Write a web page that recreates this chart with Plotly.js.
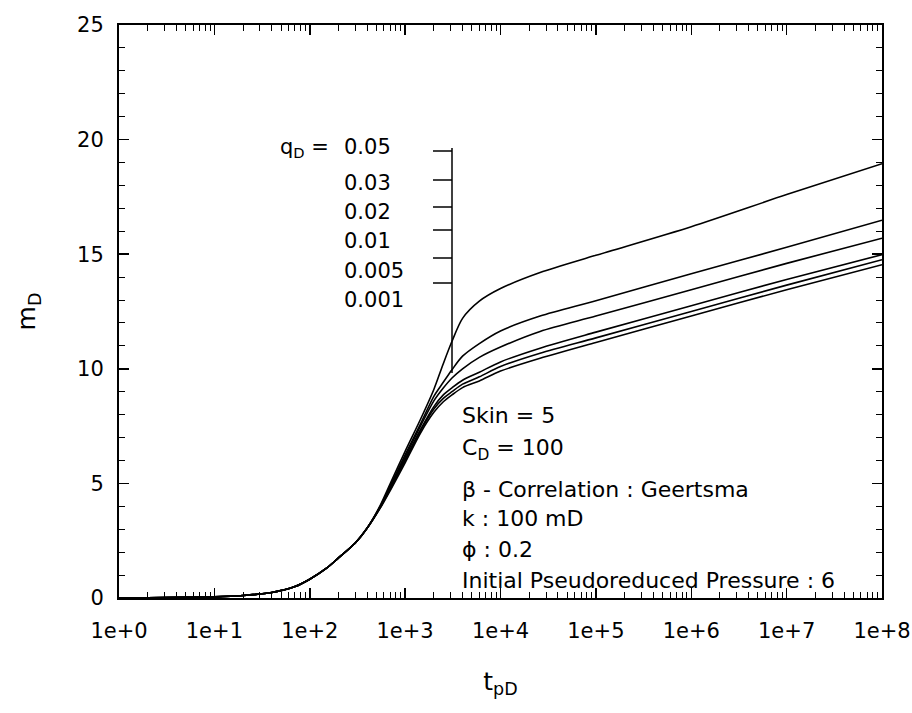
<!DOCTYPE html>
<html>
<head>
<meta charset="utf-8">
<script src="https://cdn.plot.ly/plotly-3.0.1.min.js"></script>
<style>html,body{margin:0;padding:0;background:#fff;}#chart{width:912px;height:713px;}</style>
</head>
<body>
<div id="chart"></div>
<script>
// Dimensionless time values
var tpD = [1, 2, 5, 10, 20, 40, 70, 100, 150, 200, 300, 400, 550, 700, 1000, 1450, 2000, 2500, 3100, 4000, 6000, 10000, 26000, 100000, 1000000, 10000000, 100000000];

// m_D series for each q_D
var qLabels = ["0.05", "0.03", "0.02", "0.01", "0.005", "0.001"];
var mD_005  = [0, 0.01, 0.03, 0.05, 0.11, 0.24, 0.5, 0.82, 1.3, 1.75, 2.4, 3.05, 4.05, 5.0, 6.4, 7.8, 9.1, 10.2, 11.2, 12.2, 12.95, 13.5, 14.2, 14.95, 16.2, 17.6, 18.95];
var mD_003  = [0, 0.01, 0.03, 0.05, 0.11, 0.24, 0.5, 0.82, 1.3, 1.75, 2.4, 3.05, 4.0, 4.9, 6.25, 7.6, 8.8, 9.4, 9.96, 10.55, 11.1, 11.65, 12.3, 12.97, 14.15, 15.3, 16.48];
var mD_002  = [0, 0.01, 0.03, 0.05, 0.11, 0.24, 0.5, 0.82, 1.3, 1.75, 2.4, 3.05, 4.0, 4.85, 6.15, 7.5, 8.6, 9.15, 9.6, 10.0, 10.5, 10.95, 11.63, 12.3, 13.45, 14.6, 15.7];
var mD_001  = [0, 0.01, 0.03, 0.05, 0.11, 0.24, 0.5, 0.82, 1.3, 1.75, 2.4, 3.05, 3.98, 4.8, 6.05, 7.35, 8.35, 8.85, 9.17, 9.5, 9.85, 10.3, 10.9, 11.6, 12.75, 13.9, 14.98];
var mD_0005 = [0, 0.01, 0.03, 0.05, 0.11, 0.24, 0.5, 0.82, 1.3, 1.75, 2.4, 3.05, 3.95, 4.75, 6.0, 7.3, 8.25, 8.7, 9.0, 9.33, 9.65, 10.1, 10.68, 11.35, 12.5, 13.65, 14.76];
var mD_0001 = [0, 0.01, 0.03, 0.05, 0.11, 0.24, 0.5, 0.82, 1.3, 1.75, 2.4, 3.05, 3.93, 4.7, 5.9, 7.2, 8.1, 8.55, 8.86, 9.18, 9.47, 9.9, 10.46, 11.15, 12.3, 13.45, 14.54];

var xTickVals = [1, 10, 100, 1000, 10000, 100000, 1000000, 10000000, 100000000];
var xTickText = ["1e+0", "1e+1", "1e+2", "1e+3", "1e+4", "1e+5", "1e+6", "1e+7", "1e+8"];
var yTickVals = [0, 5, 10, 15, 20, 25];

var series = [mD_005, mD_003, mD_002, mD_001, mD_0005, mD_0001];
var traces = series.map(function (s, i) {
  return {
    x: tpD, y: s, type: 'scatter', mode: 'lines',
    name: 'q_D = ' + qLabels[i],
    line: {color: '#000', width: 1.6, shape: 'spline', smoothing: 0.8},
    hoverinfo: 'skip'
  };
});

var FONT = 'DejaVu Sans, Verdana, sans-serif';

// paper-coordinate helpers (plot area: 119..882 x, 25..598 y in px)
function px(x) { return (x - 119) / 763; }
function py(y) { return (598 - y) / 573; }

var shapes = [];
shapes.push({type: 'line', xref: 'paper', yref: 'paper', x0: px(452), x1: px(452), y0: py(148), y1: py(373), line: {color: '#000', width: 1.5}});
[151, 180, 207, 230, 258, 283].forEach(function (yy) {
  shapes.push({type: 'line', xref: 'paper', yref: 'paper', x0: px(433), x1: px(452), y0: py(yy), y1: py(yy), line: {color: '#000', width: 1.5}});
});

var annotations = [];
annotations.push({xref: 'paper', yref: 'paper', x: px(278), y: py(148), xanchor: 'left', yanchor: 'middle', showarrow: false,
  text: 'q<sub>D</sub> =', font: {family: FONT, size: 21, color: '#000'}});
var qY = [147, 183, 212, 241, 271, 300];
qLabels.forEach(function (lab, i) {
  annotations.push({xref: 'paper', yref: 'paper', x: px(342), y: py(qY[i]), xanchor: 'left', yanchor: 'middle', showarrow: false,
    text: lab, font: {family: FONT, size: 21, color: '#000'}});
});
var info = ['Skin = 5', 'C<sub>D</sub> = 100', 'β - Correlation : Geertsma', 'k : 100 mD', 'ϕ : 0.2', 'Initial Pseudoreduced Pressure : 6'];
var infoY = [416, 449, 489, 518, 549, 580];
info.forEach(function (t, i) {
  annotations.push({xref: 'paper', yref: 'paper', x: px(460), y: py(infoY[i]), xanchor: 'left', yanchor: 'middle', showarrow: false,
    text: t, font: {family: FONT, size: 22, color: '#000'}});
});

var layout = {
  width: 912, height: 713,
  margin: {l: 119, r: 30, t: 25, b: 115},
  paper_bgcolor: '#fff', plot_bgcolor: '#fff',
  showlegend: false,
  font: {family: FONT, size: 21, color: '#000'},
  xaxis: {
    type: 'log', range: [0, 8],
    tickvals: xTickVals, ticktext: xTickText,
    ticks: 'inside', ticklen: 10, tickwidth: 1.5, tickcolor: '#000',
    minor: {ticks: 'inside', ticklen: 6, tickwidth: 1, tickcolor: '#000', dtick: 'D1', showgrid: false},
    showline: true, linecolor: '#000', linewidth: 2, mirror: 'ticks',
    showgrid: false, zeroline: false,
    ticklabelstandoff: 13,
    tickfont: {family: FONT, size: 21, color: '#000'},
    title: {text: 't<sub>pD</sub>', font: {family: FONT, size: 25, color: '#000'}, standoff: 30}
  },
  yaxis: {
    range: [0, 25],
    tickvals: yTickVals,
    ticks: 'inside', ticklen: 10, tickwidth: 1.5, tickcolor: '#000',
    minor: {ticks: 'inside', ticklen: 6, tickwidth: 1, tickcolor: '#000', dtick: 1, showgrid: false},
    showline: true, linecolor: '#000', linewidth: 2, mirror: 'ticks',
    showgrid: false, zeroline: false,
    ticklabelstandoff: 9,
    tickfont: {family: FONT, size: 21, color: '#000'},
    title: {text: 'm<sub>D</sub>', font: {family: FONT, size: 25, color: '#000'}, standoff: 34}
  },
  shapes: shapes,
  annotations: annotations
};

Plotly.newPlot('chart', traces, layout, {displayModeBar: false, staticPlot: true});
</script>
</body>
</html>
